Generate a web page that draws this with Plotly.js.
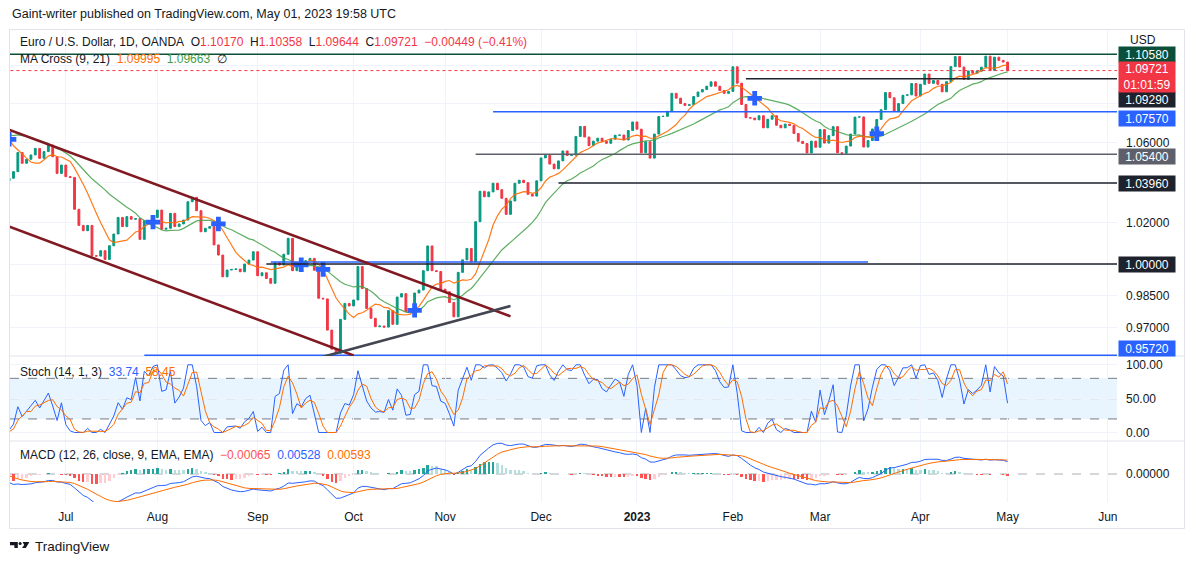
<!DOCTYPE html>
<html>
<head>
<meta charset="utf-8">
<title>EUR/USD 1D</title>
<script src="https://cdn.plot.ly/plotly-3.0.1.min.js"></script>
<style>
  html, body { margin: 0; padding: 0; background: #fff; }
  #chart { width: 1194px; height: 565px; }
</style>
</head>
<body>
<div id="chart"></div>
<script>
var FONT = '"Liberation Sans", Arial, sans-serif';
var UP = '#089981', DOWN = '#F23645';

// daily closes, OANDA EUR/USD, weekday bars, one list per month
// apr22 / may22 sit left of the view, they only give the MAs and MACD some history
var apr22 = [1.1046, 1.0971, 1.0904, 1.0901, 1.0880, 1.0876, 1.0886, 1.0828, 1.0890, 1.0826, 1.0809,
             1.0781, 1.0788, 1.0852, 1.0837, 1.0797, 1.0714, 1.0641, 1.0558, 1.0498, 1.0545];
var may22 = [1.0507, 1.0523, 1.0620, 1.0541, 1.0552, 1.0562, 1.0529, 1.0513, 1.0380, 1.0412, 1.0436,
             1.0552, 1.0463, 1.0587, 1.0562, 1.0691, 1.0735, 1.0679, 1.0725, 1.0732, 1.0780, 1.0733];
var jun22 = [1.0646, 1.0750, 1.0719, 1.0696, 1.0705, 1.0716, 1.0616, 1.0518, 1.0407, 1.0420, 1.0453,
             1.0549, 1.0495, 1.0515, 1.0537, 1.0570, 1.0520, 1.0554, 1.0587, 1.0528, 1.0444, 1.0486];
var jul22 = [1.0428, 1.0424, 1.0266, 1.0187, 1.0161, 1.0187, 1.0040, 1.0038, 1.0064, 1.0022, 1.0088,
             1.0145, 1.0226, 1.0181, 1.0230, 1.0217, 1.0220, 1.0119, 1.0210, 1.0197, 1.0225];
var aug22 = [1.0262, 1.0168, 1.0173, 1.0246, 1.0181, 1.0194, 1.0213, 1.0303, 1.0325, 1.0259, 1.0156,
             1.0173, 1.0181, 1.0092, 1.0043, 0.9939, 0.9971, 0.9974, 0.9976, 0.9963, 1.0000, 1.0019, 1.0059];
var sep22 = [0.9944, 0.9958, 0.9931, 0.9908, 1.0006, 0.9995, 1.0047, 1.0124, 0.9968, 1.0000, 0.9990,
             1.0016, 1.0027, 0.9970, 0.9837, 0.9834, 0.9688, 0.9600, 0.9581, 0.9738, 0.9813, 0.9801];
var oct22 = [0.9829, 0.9988, 0.9883, 0.9789, 0.9743, 0.9704, 0.9707, 0.9702, 0.9779, 0.9715, 0.9843,
             0.9859, 0.9775, 0.9778, 0.9862, 0.9876, 0.9968, 1.0087, 0.9968, 0.9964, 0.9880];
var nov22 = [0.9868, 0.9817, 0.9750, 0.9960, 1.0020, 1.0075, 1.0010, 1.0205, 1.0355, 1.0328, 1.0352,
             1.0395, 1.0363, 1.0320, 1.0241, 1.0307, 1.0395, 1.0410, 1.0398, 1.0340, 1.0331, 1.0407];
var dec22 = [1.0522, 1.0535, 1.0491, 1.0467, 1.0507, 1.0557, 1.0534, 1.0536, 1.0631, 1.0682, 1.0628,
             1.0584, 1.0607, 1.0622, 1.0606, 1.0596, 1.0617, 1.0637, 1.0638, 1.0613, 1.0661, 1.0705];
var jan23 = [1.0668, 1.0548, 1.0604, 1.0521, 1.0643, 1.0733, 1.0734, 1.0760, 1.0853, 1.0828, 1.0800,
             1.0790, 1.0794, 1.0836, 1.0860, 1.0873, 1.0890, 1.0913, 1.0890, 1.0868, 1.0853, 1.0863];
var feb23 = [1.0992, 1.0906, 1.0795, 1.0727, 1.0725, 1.0716, 1.0737, 1.0675, 1.0719, 1.0737,
             1.0688, 1.0675, 1.0694, 1.0687, 1.0646, 1.0606, 1.0595, 1.0547, 1.0607, 1.0576];
var mar23 = [1.0666, 1.0597, 1.0635, 1.0681, 1.0548, 1.0545, 1.0582, 1.0643, 1.0730, 1.0731, 1.0577, 1.0610,
             1.0669, 1.0718, 1.0768, 1.0857, 1.0830, 1.0761, 1.0800, 1.0843, 1.0845, 1.0904, 1.0839];
var apr23 = [1.0900, 1.0954, 1.0905, 1.0920, 1.0900, 1.0861, 1.0914, 1.0993, 1.1046, 1.0991,
             1.0926, 1.0970, 1.0958, 1.0969, 1.0990, 1.1048, 1.0973, 1.1043, 1.1026, 1.1017];
var may23 = [1.0972];
var firstOpen = 1.1066;

// month labels on the time axis
var tickMonths = ['2022-07', '2022-08', '2022-09', '2022-10', '2022-11', '2022-12',
                  '2023-01', '2023-02', '2023-03', '2023-04', '2023-05', '2023-06'];
var tickNames = ['Jul', 'Aug', 'Sep', 'Oct', 'Nov', 'Dec', '<b>2023</b>', 'Feb', 'Mar', 'Apr', 'May', 'Jun'];

// horizontal levels drawn on the chart (price, start bar)
var levelPrices = [1.1058, 1.0929, 1.0757, 1.0540, 1.0396, 1.0000, 0.9572];
var levelFrom = ['2022-06-14', '2023-02-06', '2022-11-16', '2022-11-10', '2022-12-07', '2022-09-05', '2022-07-27'];
var levelColors = ['#0B4F3A', '#1E222D', '#2962FF', '#5D606B', '#1E222D', '#1E222D', '#2962FF'];
var labelShift = [0, -21, -7, -2, 0, 0, 7];
var blueLevel = 1.0010, blueFrom = '2022-09-06', blueTo = '2023-03-16';

// trend lines
var chanTopDates = ['2022-06-14', '2022-11-22'], chanTopPrices = [1.0665, 0.9752];
var chanLowDates = ['2022-06-14', '2022-10-03'], chanLowPrices = [1.0181, 0.9571];
var riseDates = ['2022-09-22', '2022-11-22'], risePrices = [0.9565, 0.9801];

var lastPrice = 1.09721, countdown = '01:01:59';

// ---------------------------------------------------------------------

var closes = [].concat(apr22, may22, jun22, jul22, aug22, sep22, oct22, nov22, dec22, jan23, feb23, mar23, apr23, may23);
var n = closes.length;

// weekday calendar, bar i sits at x = i
var days = [];
var d = new Date(Date.UTC(2022, 3, 1));
while (days.length < n + 30) {
  var wd = d.getUTCDay();
  if (wd !== 0 && wd !== 6) days.push(d.toISOString().slice(0, 10));
  d.setUTCDate(d.getUTCDate() + 1);
}
function dayIdx(s) { return days.indexOf(s); }

var idx = [], opens = [], highs = [], lows = [];
for (var i = 0; i < n; i++) {
  idx.push(i);
  opens.push(i === 0 ? firstOpen : closes[i - 1]);
  highs.push(Math.max(opens[i], closes[i]));
  lows.push(Math.min(opens[i], closes[i]));
}

function sma(a, len) {
  return a.map(function (v, i) {
    if (i < len - 1) return null;
    var s = 0;
    for (var j = i - len + 1; j <= i; j++) s += a[j];
    return s / len;
  });
}
function ema(a, len) {
  var k = 2 / (len + 1), prev = null;
  return a.map(function (v) {
    prev = prev === null ? v : v * k + prev * (1 - k);
    return prev;
  });
}

var ma9 = sma(closes, 9), ma21 = sma(closes, 21);

var crossX = [], crossY = [];
for (i = 22; i < n; i++) {
  if ((ma9[i] - ma21[i]) * (ma9[i - 1] - ma21[i - 1]) < 0) { crossX.push(i); crossY.push(ma9[i]); }
}

var stochK = [], stochD = [];
for (i = 0; i < n; i++) {
  if (i < 13) { stochK.push(null); continue; }
  var hh = Math.max.apply(null, highs.slice(i - 13, i + 1));
  var ll = Math.min.apply(null, lows.slice(i - 13, i + 1));
  stochK.push(100 * (closes[i] - ll) / (hh - ll));
}
for (i = 0; i < n; i++) stochD.push(i < 15 ? null : (stochK[i] + stochK[i - 1] + stochK[i - 2]) / 3);

var e12 = ema(closes, 12), e26 = ema(closes, 26);
var macd = closes.map(function (c, i) { return e12[i] - e26[i]; });
var signal = ema(macd, 9);
var hist = macd.map(function (m, i) { return m - signal[i]; });
var histCol = hist.map(function (h, i) {
  var p = i ? hist[i - 1] : h;
  if (h >= 0) return h > p ? '#26A69A' : '#B2DFDB';
  return h < p ? '#FF5252' : '#FFCDD2';
});

var tickvals = tickMonths.map(function (m) {
  return days.findIndex(function (s) { return s.slice(0, 7) === m; });
});

// pixel helpers for the paper-placed decorations
function PX(x) { return (x - 10) / 1107; }
function PY(y) { return (502 - y) / 472; }
var X_END = 330;

var traces = [
  { type: 'candlestick', x: idx, open: opens, high: highs, low: lows, close: closes,
    xaxis: 'x', yaxis: 'y', whiskerwidth: 0, hoverinfo: 'skip',
    increasing: { line: { color: UP, width: 1 }, fillcolor: UP },
    decreasing: { line: { color: DOWN, width: 1 }, fillcolor: DOWN } },
  { type: 'scatter', mode: 'lines', x: idx, y: ma21, xaxis: 'x', yaxis: 'y',
    line: { color: '#43A047', width: 1.2 }, opacity: 0.85 },
  { type: 'scatter', mode: 'lines', x: idx, y: ma9, xaxis: 'x', yaxis: 'y',
    line: { color: '#FF6D00', width: 1.2 }, opacity: 0.9 },
  { type: 'scatter', mode: 'markers', x: crossX, y: crossY, xaxis: 'x', yaxis: 'y',
    marker: { symbol: 'cross', size: 12, color: '#2962FF' } },

  { type: 'scatter', mode: 'lines', x: idx, y: stochK, xaxis: 'x', yaxis: 'y2',
    line: { color: '#2962FF', width: 1 } },
  { type: 'scatter', mode: 'lines', x: idx, y: stochD, xaxis: 'x', yaxis: 'y2',
    line: { color: '#FF6D00', width: 1 } },

  { type: 'bar', x: idx, y: hist, xaxis: 'x', yaxis: 'y3', width: 0.55,
    marker: { color: histCol, line: { width: 0 } } },
  { type: 'scatter', mode: 'lines', x: idx, y: macd, xaxis: 'x', yaxis: 'y3',
    line: { color: '#2962FF', width: 1 } },
  { type: 'scatter', mode: 'lines', x: idx, y: signal, xaxis: 'x', yaxis: 'y3',
    line: { color: '#FF6D00', width: 1 } }
];

var shapes = [];
var annotations = [];

// frame and pane separators
shapes.push({ type: 'rect', xref: 'paper', yref: 'paper', x0: PX(9.5), x1: PX(1184.5), y0: PY(29.5), y1: PY(528.5),
  line: { color: '#E0E3EB', width: 1 } });
[356, 441].forEach(function (y) {
  shapes.push({ type: 'line', xref: 'paper', yref: 'paper', x0: PX(9.5), x1: PX(1184.5), y0: PY(y), y1: PY(y),
    line: { color: '#E0E3EB', width: 1 } });
});

// stoch band and levels
shapes.push({ type: 'rect', xref: 'paper', yref: 'y2', x0: 0, x1: 1, y0: 20, y1: 80,
  fillcolor: 'rgba(33,150,243,0.1)', line: { width: 0 }, layer: 'below' });
[[80, '#787B86'], [50, 'rgba(120,123,134,0.55)'], [20, '#787B86']].forEach(function (h) {
  shapes.push({ type: 'line', xref: 'paper', yref: 'y2', x0: 0, x1: 1, y0: h[0], y1: h[0],
    line: { color: h[1], width: 1, dash: 'dash' }, layer: 'below' });
});
shapes.push({ type: 'line', xref: 'paper', yref: 'y3', x0: 0, x1: 1, y0: 0, y1: 0,
  line: { color: 'rgba(120,123,134,0.6)', width: 1, dash: 'dash' }, layer: 'below' });

// current price line
shapes.push({ type: 'line', xref: 'x', yref: 'y', x0: 0, x1: X_END, y0: lastPrice, y1: lastPrice,
  line: { color: DOWN, width: 1, dash: 'dot' } });

// horizontal levels
levelPrices.forEach(function (p, k) {
  shapes.push({ type: 'line', xref: 'x', yref: 'y', x0: dayIdx(levelFrom[k]), x1: X_END, y0: p, y1: p,
    line: { color: levelColors[k], width: 1.5 } });
});
shapes.push({ type: 'line', xref: 'x', yref: 'y', x0: dayIdx(blueFrom), x1: dayIdx(blueTo),
  y0: blueLevel, y1: blueLevel, line: { color: '#2962FF', width: 1.5 } });

// channel + rising line
[[chanTopDates, chanTopPrices, '#801922'], [chanLowDates, chanLowPrices, '#801922'], [riseDates, risePrices, '#434651']]
  .forEach(function (t) {
    shapes.push({ type: 'line', xref: 'x', yref: 'y', x0: dayIdx(t[0][0]), x1: dayIdx(t[0][1]),
      y0: t[1][0], y1: t[1][1], line: { color: t[2], width: 2.6 } });
  });

// TradingView logo
function path(pts) {
  return 'M' + pts.map(function (p) { return PX(p[0]) + ',' + PY(p[1]); }).join(' L') + ' Z';
}
shapes.push({ type: 'path', xref: 'paper', yref: 'paper', fillcolor: '#131722', line: { width: 0 },
  path: path([[10, 542], [17.8, 542], [17.8, 548], [14.4, 548], [14.4, 545.2], [10, 545.2]]) });
shapes.push({ type: 'circle', xref: 'paper', yref: 'paper', fillcolor: '#131722', line: { width: 0 },
  x0: PX(18.6), x1: PX(21.6), y0: PY(542), y1: PY(545) });
shapes.push({ type: 'path', xref: 'paper', yref: 'paper', fillcolor: '#131722', line: { width: 0 },
  path: path([[22.6, 542], [29.4, 542], [25.8, 548], [22, 548], [24.2, 545]]) });

// texts
function note(x, y, text, size, extra) {
  var a = { xref: 'paper', yref: 'paper', x: PX(x), y: PY(y), xanchor: 'left', yanchor: 'middle',
    text: text, showarrow: false, font: { family: FONT, size: size || 12, color: '#131722' } };
  for (var key in extra) a[key] = extra[key];
  annotations.push(a);
}
function col(c, t) { return '<span style="color:' + c + '">' + t + '</span>'; }
var sp = '\u00a0\u00a0';

note(10, 14, 'Gaint-writer published on TradingView.com, May 01, 2023 19:58 UTC', 12.5);
note(18, 42, 'Euro / U.S. Dollar, 1D, OANDA' + sp + 'O' + col(DOWN, '1.10170') + sp + 'H' + col(DOWN, '1.10358') +
  sp + 'L' + col(DOWN, '1.09644') + sp + 'C' + col(DOWN, '1.09721') + sp + col(DOWN, '\u22120.00449 (\u22120.41%)'));
note(18, 59, 'MA Cross (9, 21)' + sp + col('#FF6D00', '1.09995') + sp + col('#43A047', '1.09663') + sp + '\u2205');
note(18, 372, 'Stoch (14, 1, 3)' + sp + col('#2962FF', '33.74') + sp + col('#FF6D00', '58.45'));
note(18, 455, 'MACD (12, 26, close, 9, EMA, EMA)' + sp + col('#FF5252', '\u22120.00065') + sp +
  col('#2962FF', '0.00528') + sp + col('#FF6D00', '0.00593'));
note(1128, 40, 'USD');
note(33, 546.5, 'TradingView', 13.5);

function priceLabel(p, text, bg, shift, h) {
  annotations.push({ xref: 'paper', yref: 'y', x: 1, y: Math.log10(p), xanchor: 'left', yanchor: 'middle',
    xshift: 1, yshift: shift, text: text, showarrow: false, bgcolor: bg, width: 54, height: h || 13,
    borderpad: 1, align: 'center', font: { family: FONT, size: 12, color: '#FFFFFF' } });
}
levelPrices.forEach(function (p, k) { priceLabel(p, p.toFixed(5), levelColors[k], labelShift[k]); });
priceLabel(lastPrice, lastPrice.toFixed(5) + '<br>' + countdown, DOWN, -6.5, 28);

var layout = {
  width: 1194, height: 565,
  margin: { l: 10, r: 77, t: 30, b: 63 },
  paper_bgcolor: '#FFFFFF', plot_bgcolor: '#FFFFFF',
  font: { family: FONT, size: 12, color: '#131722' },
  showlegend: false, hovermode: false, boxgap: 0.4, bargap: 0,
  xaxis: { range: [52.2, 306.1], anchor: 'y3', tickvals: tickvals, ticktext: tickNames,
    showgrid: true, gridcolor: '#F0F3FA', zeroline: false, showline: false, ticks: '',
    tickfont: { size: 12, color: '#131722' }, ticklabelstandoff: 6, rangeslider: { visible: false } },
  yaxis: { type: 'log', domain: [0.3093, 1], range: [Math.log10(0.95684), Math.log10(1.11877)], side: 'right',
    anchor: 'x', tickvals: [0.97, 0.985, 1.00, 1.02, 1.04, 1.06, 1.08, 1.10],
    ticktext: ['0.97000', '0.98500', '', '1.02000', '', '1.06000', '', ''],
    showgrid: true, gridcolor: '#F0F3FA', zeroline: false, ticks: '', ticklabelstandoff: 8 },
  yaxis2: { domain: [0.1292, 0.3093], range: [-12.6, 113], side: 'right', anchor: 'x',
    tickvals: [0, 50, 100], ticktext: ['0.00', '50.00', '100.00'],
    showgrid: true, gridcolor: '#F0F3FA', zeroline: false, ticks: '', ticklabelstandoff: 8 },
  yaxis3: { domain: [0, 0.1292], range: [-0.0120, 0.01416], side: 'right', anchor: 'x',
    tickvals: [0], ticktext: ['0.00000'], showgrid: false, zeroline: false, ticks: '', ticklabelstandoff: 8 },
  shapes: shapes,
  annotations: annotations
};

Plotly.newPlot('chart', traces, layout, { displayModeBar: false, staticPlot: true });
</script>
</body>
</html>
